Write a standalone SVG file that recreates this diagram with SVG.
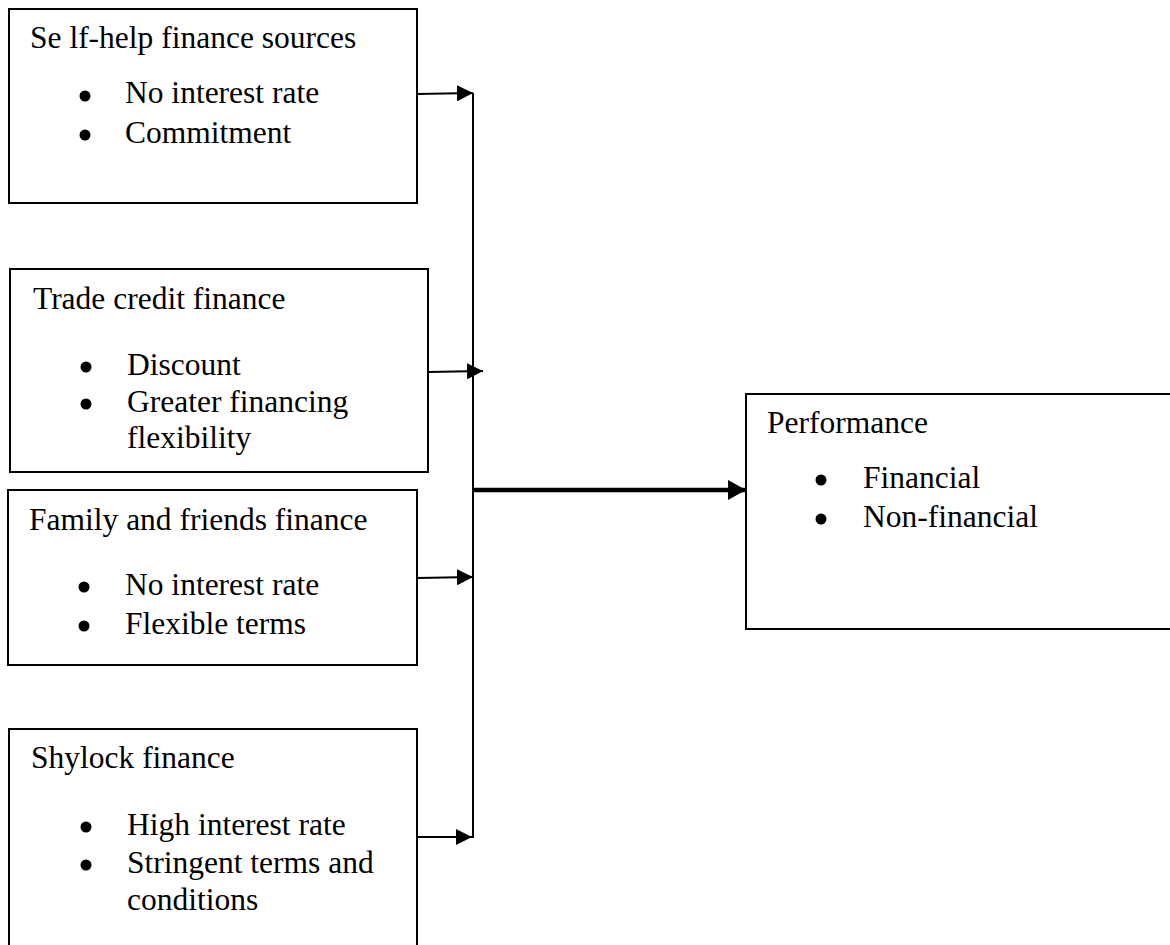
<svg xmlns="http://www.w3.org/2000/svg" width="1170" height="945" viewBox="0 0 1170 945">
<defs>
<style>
.box{fill:#fff;stroke:#000;stroke-width:2}
.t{font-family:"Liberation Serif","Times New Roman",serif;font-size:31.5px;fill:#000}
.ln{stroke:#000;stroke-width:2;fill:none}
.thick{stroke:#000;stroke-width:4.5;fill:none}
.b{fill:#000}
</style>
<marker id="ah" markerWidth="16" markerHeight="16" refX="16" refY="8" orient="auto" markerUnits="userSpaceOnUse">
<path d="M0,0 L16,8 L0,16 Z" fill="#000"/>
</marker>
<marker id="ahb" markerWidth="18" markerHeight="20" refX="18" refY="10" orient="auto" markerUnits="userSpaceOnUse">
<path d="M0,0 L18,10 L0,20 Z" fill="#000"/>
</marker>
</defs>
<rect width="1170" height="945" fill="#fff"/>
<g id="self-help">
<rect class="box" x="9" y="9" width="408" height="194"/>
<text class="t" x="30" y="48">Se lf-help finance sources</text>
<circle class="b" cx="85" cy="96" r="5.5"/><text class="t" x="125" y="103">No interest rate</text>
<circle class="b" cx="85" cy="135" r="5.5"/><text class="t" x="125" y="143">Commitment</text>
</g>
<g id="trade-credit">
<rect class="box" x="10" y="269" width="418" height="203"/>
<text class="t" x="33" y="309">Trade credit finance</text>
<circle class="b" cx="86" cy="367" r="5.5"/><text class="t" x="127" y="375">Discount</text>
<circle class="b" cx="86" cy="404" r="5.5"/><text class="t" x="127" y="412">Greater financing</text>
<text class="t" x="127" y="448">flexibility</text>
</g>
<g id="family-friends">
<rect class="box" x="8" y="490" width="409" height="175"/>
<text class="t" x="29" y="530">Family and friends finance</text>
<circle class="b" cx="84" cy="587" r="5.5"/><text class="t" x="125" y="595">No interest rate</text>
<circle class="b" cx="84" cy="626" r="5.5"/><text class="t" x="125" y="634">Flexible terms</text>
</g>
<g id="shylock">
<rect class="box" x="9" y="729" width="408" height="240"/>
<text class="t" x="31" y="768">Shylock finance</text>
<circle class="b" cx="86" cy="827" r="5.5"/><text class="t" x="127" y="835">High interest rate</text>
<circle class="b" cx="86" cy="865" r="5.5"/><text class="t" x="127" y="873">Stringent terms and</text>
<text class="t" x="127" y="910">conditions</text>
</g>
<g id="performance">
<rect class="box" x="746" y="394" width="440" height="235"/>
<text class="t" x="767" y="433">Performance</text>
<circle class="b" cx="821" cy="480" r="5.5"/><text class="t" x="863" y="488">Financial</text>
<circle class="b" cx="821" cy="519" r="5.5"/><text class="t" x="863" y="527">Non-financial</text>
</g>
<g id="connectors">
<line class="ln" x1="473" y1="93" x2="473" y2="838"/>
<line class="ln" x1="417" y1="94" x2="473" y2="93" marker-end="url(#ah)"/>
<line class="ln" x1="428" y1="372" x2="483" y2="371" marker-end="url(#ah)"/>
<line class="ln" x1="417" y1="578" x2="473" y2="577" marker-end="url(#ah)"/>
<line class="ln" x1="417" y1="837" x2="472" y2="837" marker-end="url(#ah)"/>
<line class="thick" x1="473" y1="490" x2="746" y2="490" marker-end="url(#ahb)"/>
</g>
</svg>
